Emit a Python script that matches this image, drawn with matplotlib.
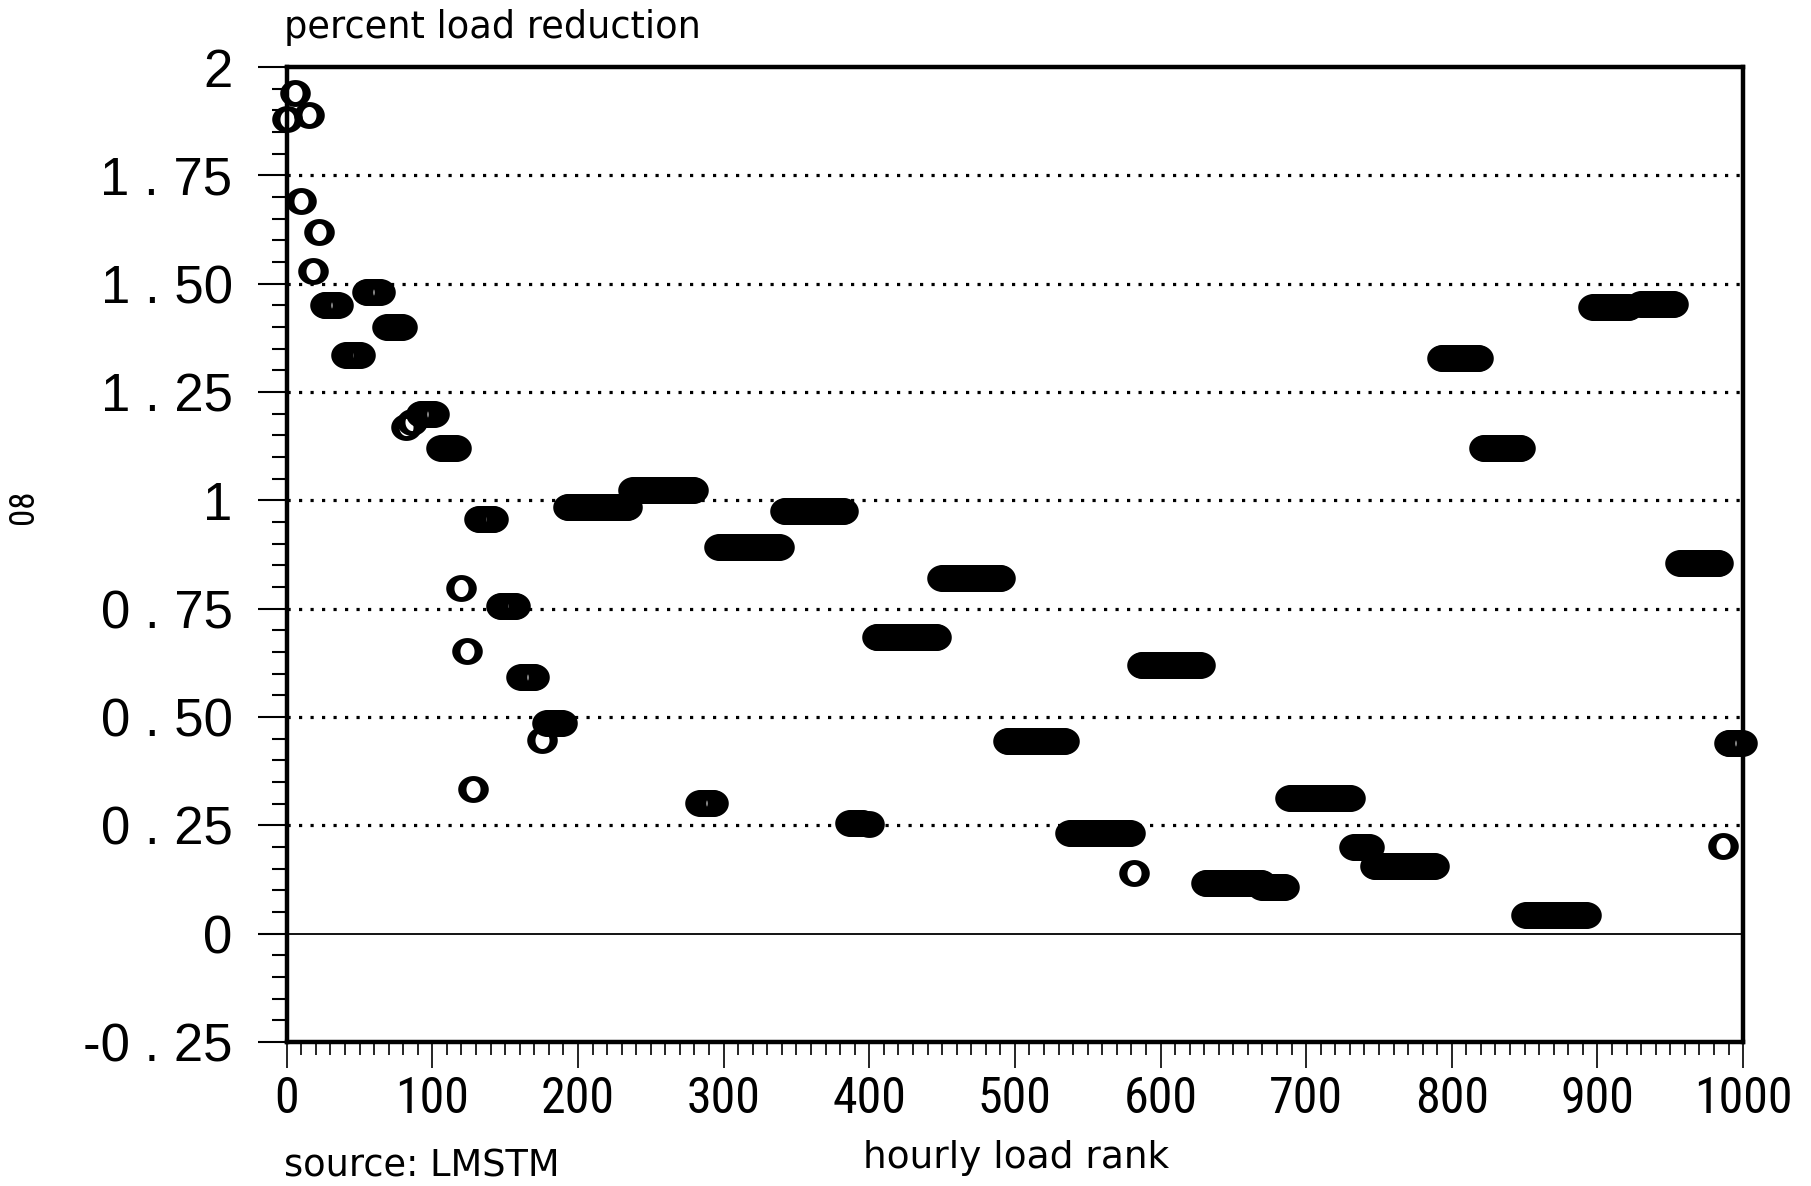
import numpy as np
import matplotlib
matplotlib.use("Agg")
import matplotlib.pyplot as plt
from matplotlib import font_manager
from matplotlib.path import Path
from matplotlib.ticker import FixedLocator, MultipleLocator

# blocks of consecutive hourly ranks that share one load reduction value
run_start = [26, 41, 55, 69, 92, 106, 132, 147, 161, 179, 193, 238, 284, 297, 342,
             387, 405, 450, 495, 538, 587, 631, 670, 689, 733, 747, 793, 822, 851,
             897, 930, 957, 990]
run_end = [35, 50, 64, 79, 101, 116, 142, 157, 170, 189, 234, 279, 293, 338, 382,
           395, 446, 490, 534, 579, 627, 669, 685, 730, 743, 788, 818, 847, 892,
           921, 952, 983, 999]
run_value = [1.45, 1.335, 1.48, 1.40, 1.20, 1.12, 0.956, 0.756, 0.593, 0.487, 0.985,
             1.024, 0.302, 0.892, 0.976, 0.256, 0.685, 0.82, 0.444, 0.232, 0.62,
             0.116, 0.108, 0.312, 0.201, 0.157, 1.329, 1.12, 0.043, 1.446, 1.453,
             0.856, 0.439]

# isolated hours
single_rank = [0, 6, 15, 10, 22, 18, 82, 86, 120, 124, 128, 175, 400, 582, 986]
single_value = [1.88, 1.94, 1.89, 1.69, 1.62, 1.53, 1.17, 1.18, 0.797, 0.652, 0.333,
                0.447, 0.252, 0.141, 0.203]

ytick_values = [-0.25, 0, 0.25, 0.5, 0.75, 1, 1.25, 1.5, 1.75, 2]
ytick_labels = ["-0 . 25", "0", "0 . 25", "0 . 50", "0 . 75", "1", "1 . 25",
                "1 . 50", "1 . 75", "2"]
xtick_values = list(range(0, 1001, 100))
grid_values = [0.25, 0.5, 0.75, 1, 1.25, 1.5, 1.75]


def pick_family(*names):
    have = {f.name for f in font_manager.fontManager.ttflist}
    for n in names:
        if n in have:
            return n
    return "DejaVu Sans"


narrow = pick_family("Liberation Sans Narrow", "DejaVu Sans Condensed",
                     "Roboto Condensed", "Noto Sans Condensed")
base = "DejaVu Sans"
arial = pick_family("Liberation Sans", "DejaVu Sans")

# letter-O style ring: thick sides, thinner top and bottom
theta = np.linspace(0, 2 * np.pi, 73)
outer = np.column_stack([np.cos(theta), 0.88 * np.sin(theta)])
inner = np.column_stack([0.46 * np.cos(theta[::-1]), 0.56 * np.sin(theta[::-1])])
codes = ([Path.MOVETO] + [Path.LINETO] * 71 + [Path.CLOSEPOLY]) * 2
ring = Path(np.vstack([outer, inner]), codes)
ms = 22

fig = plt.figure(figsize=(18.11, 11.86), dpi=100)
ax = fig.add_axes([0.1583, 0.1214, 0.8042, 0.8221])
ax.set_xlim(0, 1000)
ax.set_ylim(-0.25, 2)

for g in grid_values:
    ax.axhline(g, color="black", lw=2.3, ls=(0, (1, 2.6)), dash_capstyle="butt", zorder=1)
ax.axhline(0, color="black", lw=1.3, zorder=1)

ranks = np.concatenate([np.arange(s, e + 1) for s, e in zip(run_start, run_end)])
values = np.concatenate([np.full(e - s + 1, v) for s, e, v in zip(run_start, run_end, run_value)])
ax.plot(ranks, values, ls="none", marker=ring, ms=ms, mfc="black", mec="none",
        clip_on=False, zorder=3)
ax.plot(single_rank, single_value, ls="none", marker=ring, ms=ms, mfc="black",
        mec="none", clip_on=False, zorder=3)

for s in ax.spines.values():
    s.set_linewidth(3.2)

ax.yaxis.set_major_locator(FixedLocator(ytick_values))
ax.set_yticklabels(ytick_labels, fontsize=38, family=arial)
ax.yaxis.set_minor_locator(MultipleLocator(0.05))
ax.tick_params(axis="y", which="major", length=21, width=1.5, pad=18)
ax.tick_params(axis="y", which="minor", length=11, width=1.5)

ax.xaxis.set_major_locator(FixedLocator(xtick_values))
ax.set_xticklabels([str(v) for v in xtick_values], fontsize=36, family=narrow)
ax.xaxis.set_minor_locator(MultipleLocator(10))
ax.tick_params(axis="x", which="major", length=19, width=1.2, pad=5)
ax.tick_params(axis="x", which="minor", length=9.5, width=1.2)

fig.text(0.157, 0.968, "percent load reduction", fontsize=26.5, family=base,
         ha="left", va="baseline")
fig.text(0.561, 0.015, "hourly load rank", fontsize=27, family=base,
         ha="center", va="baseline")
fig.text(0.157, 0.008, "source: LMSTM", fontsize=26.5, family=base,
         ha="left", va="baseline")
fig.text(0.013, 0.573, "08", fontsize=25, family=narrow, rotation=90,
         ha="center", va="center")

fig.savefig("out.png", dpi=100)
